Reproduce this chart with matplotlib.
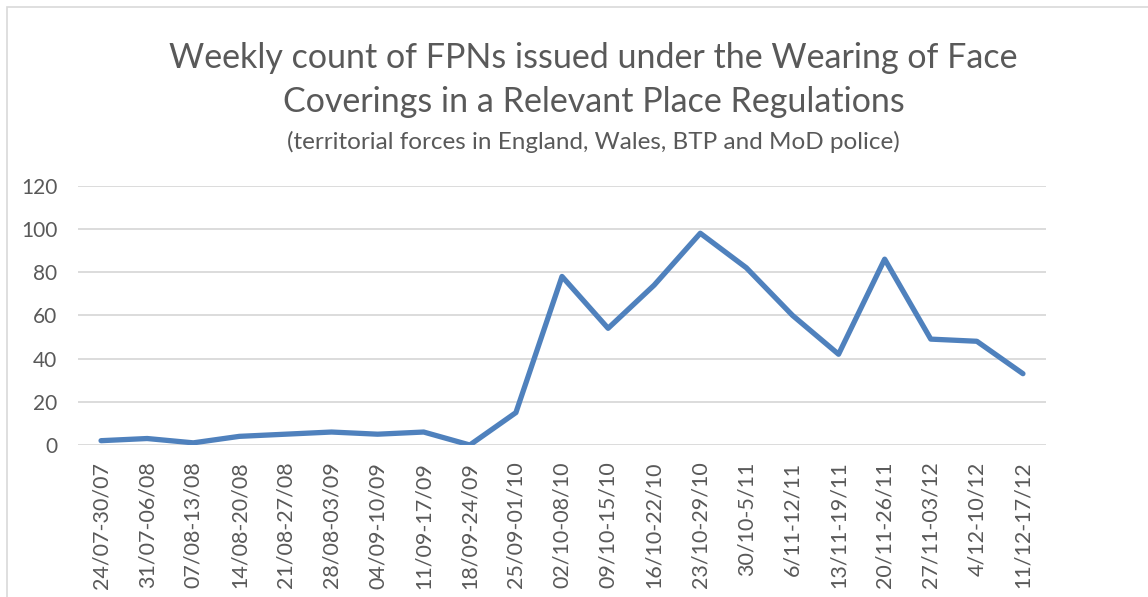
import matplotlib
matplotlib.use("Agg")
import matplotlib.pyplot as plt
from matplotlib.patches import Rectangle

# weekly periods and FPN counts
weeks = ["24/07-30/07", "31/07-06/08", "07/08-13/08", "14/08-20/08", "21/08-27/08",
         "28/08-03/09", "04/09-10/09", "11/09-17/09", "18/09-24/09", "25/09-01/10",
         "02/10-08/10", "09/10-15/10", "16/10-22/10", "23/10-29/10", "30/10-5/11",
         "6/11-12/11", "13/11-19/11", "20/11-26/11", "27/11-03/12", "4/12-10/12",
         "11/12-17/12"]
fpns = [2, 3, 1, 4, 5, 6, 5, 6, 0, 15, 78, 54, 74, 98, 82, 60, 42, 86, 49, 48, 33]
yticks = [0, 20, 40, 60, 80, 100, 120]

plt.rcParams['font.family'] = ['Lato', 'DejaVu Sans']
txt = '#595959'

fig = plt.figure(figsize=(11.48, 5.97), dpi=100)
ax = fig.add_axes([78/1148, 1 - 445/597, (1046-78)/1148, (445-185.7)/597])

x = list(range(len(weeks)))
ax.plot(x, fpns, color='#4F81BD', lw=3.8, solid_joinstyle='round', solid_capstyle='round', zorder=3)

ax.set_xlim(-0.5, len(weeks) - 0.5)
ax.set_ylim(0, 120)
ax.set_yticks(yticks)
ax.set_yticklabels([str(v) for v in yticks])
ax.set_xticks(x)
ax.set_xticklabels(weeks, rotation=90)
ax.grid(axis='y', color='#D9D9D9', lw=1.3)
ax.set_axisbelow(True)
for s in ax.spines.values():
    s.set_visible(False)
ax.tick_params(length=0, colors=txt)
ax.tick_params(axis='y', pad=15, labelsize=15)
ax.tick_params(axis='x', pad=12, labelsize=15.5)

# chart border (partly outside the crop)
fig.add_artist(Rectangle((7/1148, -0.1), 1.2, 1 - 7/597 + 0.1, transform=fig.transFigure,
                         fill=False, ec='#D9D9D9', lw=1.2))

fig.text(0.517, 1 - 58/597, "Weekly count of FPNs issued under the Wearing of Face",
         ha='center', va='center', fontsize=24.5, color=txt)
fig.text(0.517, 1 - 102/597, "Coverings in a Relevant Place Regulations",
         ha='center', va='center', fontsize=24.5, color=txt)
fig.text(0.517, 1 - 142/597, "(territorial forces in England, Wales, BTP and MoD police)",
         ha='center', va='center', fontsize=17.5, color=txt)

fig.savefig("out.png", dpi=100)
